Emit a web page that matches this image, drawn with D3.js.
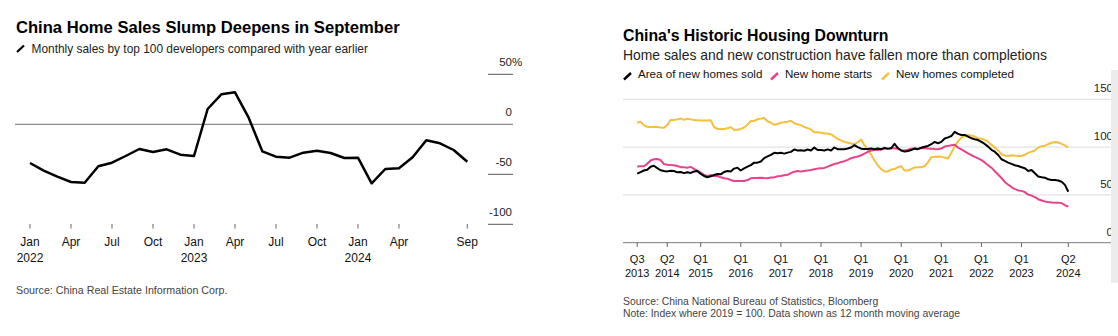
<!DOCTYPE html>
<html><head><meta charset="utf-8">
<script src="https://cdn.jsdelivr.net/npm/d3@7"></script>
<style>
body{margin:0;background:#fff;overflow:hidden}
svg text{font-family:"Liberation Sans",Arial,Helvetica,sans-serif}
</style>
</head><body><svg id="c" width="1118" height="336"></svg>
<script>
// ---------- Left chart data ----------
const leftTitle = "China Home Sales Slump Deepens in September";
const leftSubtitle = "Monthly sales by top 100 developers compared with year earlier";
const leftSource = "Source: China Real Estate Information Corp.";
// Monthly, Jan 2022 .. Sep 2024 (% YoY)
const salesYoY = [-38.7,-46.4,-52.4,-57.7,-58.4,-42,-38.4,-31.7,-24.7,-27.7,-25,-30.4,
  -31.7,15.3,30,32,6.6,-27,-32.4,-33.4,-28.4,-26.4,-28.7,-33.7,
  -33.4,-59,-44.7,-44,-33,-16,-19,-25.7,-37.4];
const leftTickIdx = [0,3,6,9,12,15,18,21,24,27,32];
const leftTickLabels = ["Jan","Apr","Jul","Oct","Jan","Apr","Jul","Oct","Jan","Apr","Sep"];
const leftYearIdx = [0,12,24];
const leftYearLabels = ["2022","2023","2024"];
const leftYTicks = [50,0,-50,-100];

// ---------- Right chart data ----------
const rightTitle = "China's Historic Housing Downturn";
const rightSubtitle = "Home sales and new construction have fallen more than completions";
const rightSource = "Source: China National Bureau of Statistics, Bloomberg";
const rightNote = "Note: Index where 2019 = 100. Data shown as 12 month moving average";
const seriesNames = ["Area of new homes sold","New home starts","New homes completed"];
// Monthly index (2019 = 100), Jun 2013 .. Mar 2024
const homesSold = [72.2,73.8,75.5,76.3,79.5,80.5,78,75.8,75,74.6,
  75.3,75,73.6,74,72.8,73.6,73,74.5,75,72,
  69.8,68.5,69.5,70.8,71.8,71.5,74,75,74.5,77.5,
  78.5,75.5,77.8,79.5,81.2,83.7,83.7,85,88.5,90.3,
  91.8,94,93.5,94,93.2,94.2,95,97.5,96.5,96.8,
  96.2,97.5,96.5,99.5,97,97,96.5,97.6,96.5,99.5,
  97.8,97.7,97.7,98.5,99.6,102,100,98.3,98,98,
  98.6,97.8,98.5,97.8,99.2,98.4,98.8,103.5,99,96.4,
  95.3,95.9,96.9,98.6,97.8,99.3,100.3,101.2,103,105.4,
  104,105.5,109,110.2,111.6,116,113.8,112.7,112.7,111,
  109.3,108.3,107.4,105.4,103.3,100.5,97.2,95.2,91.8,87.3,
  85.5,83.8,82.4,81,80.2,78.9,77.8,75,76,72.6,
  69.2,68.4,68,66.3,65.6,65.6,65,63.8,60.5,53.3];
const homeStarts = [79.7,80,80,82.5,86,87.3,87.5,86.5,82.3,81.6,
  81.2,81,80.2,79,78.9,78.5,79.3,77.3,75.3,73.2,
  71,69.8,70.6,69.8,69.8,68.4,67.4,67,65.6,64.6,
  64.5,64.5,64.5,65.5,67.3,67.7,67.7,68,67.7,67.5,
  68.1,68.3,69.5,69.8,70.5,71,72.8,74.3,75,74.4,
  75,75.4,76,76.8,77.5,78,78.2,79.6,81,82.3,
  83,84.5,85.3,86.6,88.4,89.4,90.2,91.5,93.2,95,
  96.4,97,97,97.6,98.4,98,98.7,98.7,98.2,96.8,
  96.5,97.2,98.2,98.5,98.4,98.7,99,98.5,98.4,98,
  97.7,98.5,100.6,101.3,102,102.5,99.5,97.5,95.5,93.5,
  91.5,89.8,88.2,86.4,84,81,78.6,74.8,71.3,67.7,
  63.5,60.7,58.2,56,54.7,54.2,52.9,50.3,49.3,47.7,
  45.5,44.1,43.2,42.5,42,41.8,41.8,41.4,39.2,37.7];
const homesCompleted = [125.5,126.5,123,121.3,121,121,121,120.5,120.3,123,
  128.3,128.3,129,130,128.5,129.6,129,128.3,128,127.7,
  127.7,127.7,128,121,119,119,119,119.7,120.7,118,
  118.2,119,120.5,123.5,127.3,127.3,129.2,129.8,130.5,127,
  125.5,123.3,124.2,125.5,126,126.6,127.5,125,123.8,123,
  121,119.8,118.5,115.5,115.5,115,114.3,114.1,113.4,111,
  108.5,107,105.5,104.5,103.8,103,105,108,102,97.5,
  92,86,81,77,74.5,74.5,76.5,77,79,80,
  75.5,75.5,77,78.7,79,78.9,80,84,89.5,90,
  90.2,90,89,88,94,101,106,110,111.5,112.7,
  112,111,109.3,108.8,107.5,105.6,102.3,99.5,96.5,92.5,
  91.2,90.7,91.5,91.3,90.7,90.7,92,94,95.3,96.5,
  99.5,101,101.5,103.2,104.5,105.3,104.8,103.5,101.5,99.8];
const rightTickIdx = [0,9,19,31,43,55,67,79,91,103,115,129];
const rightQuarters = ["Q3","Q2","Q1","Q1","Q1","Q1","Q1","Q1","Q1","Q1","Q1","Q2"];
const rightYears = ["2013","2014","2015","2016","2017","2018","2019","2020","2021","2022","2023","2024"];
const rightYTicks = [0,50,100,150];

const colors = ["#000000","#e8428b","#f4c03e"];

const svg = d3.select("#c");

// ================= LEFT CHART =================
svg.append("text").attr("x",16).attr("y",33).attr("font-size",16.6).attr("font-weight","bold")
  .attr("fill","#000").text(leftTitle);
svg.append("line").attr("x1",17).attr("y1",52).attr("x2",24).attr("y2",45.5)
  .attr("stroke","#000").attr("stroke-width",2.2);
svg.append("text").attr("x",31.5).attr("y",52.5).attr("font-size",11.9).attr("fill","#222").text(leftSubtitle);

const lx = d3.scaleLinear().domain([0,32]).range([30,467.3]);
const ly = d3.scaleLinear().domain([-100,50]).range([224.3,74.3]);

// y ticks (right side)
const lyG = svg.append("g");
leftYTicks.forEach(v=>{
  if(v===0){
    lyG.append("line").attr("x1",15).attr("x2",513).attr("y1",ly(v)).attr("y2",ly(v))
      .attr("stroke","#6e6e6e").attr("stroke-width",1);
  } else {
    lyG.append("line").attr("x1",488).attr("x2",513).attr("y1",ly(v)).attr("y2",ly(v))
      .attr("stroke","#555").attr("stroke-width",1);
  }
  lyG.append("text").attr("x",512).attr("y",ly(v)-8).attr("text-anchor","end")
    .attr("font-size",11.5).attr("fill","#222").text(String(v));
  if(v===50){
    lyG.append("text").attr("x",512).attr("y",ly(v)-8).attr("font-size",11.5).attr("fill","#222").text("%");
  }
});

// x ticks
const lxG = svg.append("g");
leftTickIdx.forEach((d,i)=>{
  lxG.append("line").attr("x1",lx(d)).attr("x2",lx(d)).attr("y1",224).attr("y2",228.5)
    .attr("stroke","#666").attr("stroke-width",1);
  lxG.append("text").attr("x",lx(d)).attr("y",246).attr("text-anchor","middle")
    .attr("font-size",12).attr("fill","#111").text(leftTickLabels[i]);
});
leftYearIdx.forEach((d,i)=>{
  lxG.append("text").attr("x",lx(d)).attr("y",261.8).attr("text-anchor","middle")
    .attr("font-size",12).attr("fill","#111").text(leftYearLabels[i]);
});

svg.append("path").datum(salesYoY)
  .attr("d", d3.line().x((d,i)=>lx(i)).y(d=>ly(d)))
  .attr("fill","none").attr("stroke","#000").attr("stroke-width",2.5).attr("stroke-linejoin","round");

svg.append("text").attr("x",16).attr("y",293.5).attr("font-size",10.7).attr("fill","#444").text(leftSource);

// ================= RIGHT CHART =================
svg.append("text").attr("x",623).attr("y",40.5).attr("font-size",15.8).attr("font-weight","bold")
  .attr("fill","#000").text(rightTitle);
svg.append("text").attr("x",623).attr("y",59.5).attr("font-size",13.9).attr("fill","#222").text(rightSubtitle);

// legend
const legendX = [[624,638],[771,785],[882,896]];
seriesNames.forEach((n,i)=>{
  svg.append("line").attr("x1",legendX[i][0]).attr("y1",79.5).attr("x2",legendX[i][0]+7).attr("y2",73)
    .attr("stroke",colors[i]).attr("stroke-width",2.4);
  svg.append("text").attr("x",legendX[i][1]).attr("y",78.3).attr("font-size",11.6).attr("fill","#111").text(n);
});

const rx = d3.scaleLinear().domain([0,129]).range([637.2,1068.3]);
const ry = d3.scaleLinear().domain([0,150]).range([242.7,99.3]);

const ryG = svg.append("g");
rightYTicks.forEach(v=>{
  ryG.append("line").attr("x1",623).attr("x2",1111).attr("y1",ry(v)).attr("y2",ry(v))
    .attr("stroke", v===0 ? "#7a7a7a" : "#dcdcdc").attr("stroke-width",1);
});

const rxG = svg.append("g");
rightTickIdx.forEach((d,i)=>{
  rxG.append("line").attr("x1",rx(d)).attr("x2",rx(d)).attr("y1",242.7).attr("y2",247)
    .attr("stroke","#666").attr("stroke-width",1);
  rxG.append("text").attr("x",rx(d)).attr("y",262.5).attr("text-anchor","middle")
    .attr("font-size",11).attr("fill","#111").text(rightQuarters[i]);
  rxG.append("text").attr("x",rx(d)).attr("y",277).attr("text-anchor","middle")
    .attr("font-size",11).attr("fill","#111").text(rightYears[i]);
});

const line = d3.line().x((d,i)=>rx(i)).y(d=>ry(d));
[homesCompleted, homeStarts, homesSold].forEach((s,k)=>{
  const ci = [2,1,0][k];
  svg.append("path").datum(s).attr("d",line).attr("fill","none")
    .attr("stroke",colors[ci]).attr("stroke-width",2).attr("stroke-linejoin","round");
});

rightYTicks.forEach(v=>{
  ryG.append("text").attr("x",1113).attr("y",ry(v)-7).attr("text-anchor","end")
    .attr("font-size",11.5).attr("fill","#222").text(String(v));
});

svg.append("text").attr("x",623).attr("y",304.5).attr("font-size",10.4).attr("fill","#444").text(rightSource);
svg.append("text").attr("x",623).attr("y",317).attr("font-size",10.4).attr("fill","#444").text(rightNote);

// edge strip
svg.append("rect").attr("x",1111).attr("y",70).attr("width",7).attr("height",213).attr("fill","#ececec");
</script>
</body></html>
